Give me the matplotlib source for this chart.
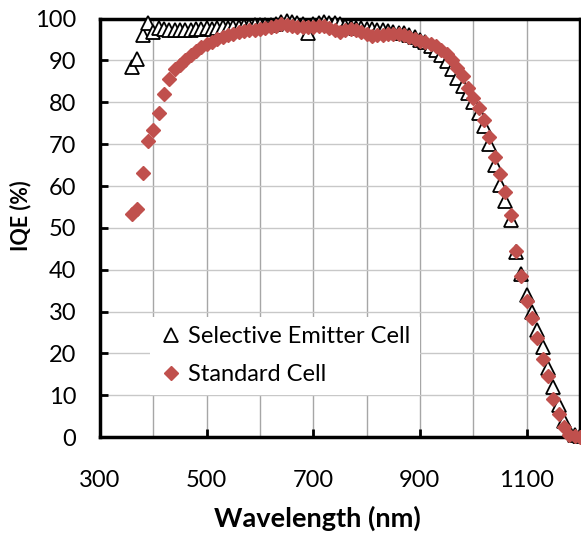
import matplotlib
matplotlib.use("Agg")
import matplotlib.pyplot as plt
from matplotlib.ticker import MultipleLocator

plt.rcParams['font.family'] = ['Lato', 'DejaVu Sans']

# wavelength grid (nm)
wavelength = list(range(360, 1201, 10))

# IQE (%) of the selective emitter cell
iqe_selective = [
    88.5, 90.3, 96.2, 99.0, 96.8, 97.8, 97.5, 97.4, 97.3, 97.2,
    97.3, 97.4, 97.5, 97.6, 97.7, 97.6, 97.8, 97.9, 97.8, 98.0,
    98.1, 98.2, 98.3, 98.4, 98.5, 98.5, 98.6, 98.8, 99.3, 99.4,
    99.2, 98.9, 98.8, 96.5, 98.8, 99.0, 99.2, 99.0, 98.9, 98.7,
    98.3, 98.0, 97.8, 97.7, 97.6, 97.6, 97.4, 97.3, 97.1, 96.9,
    96.6, 96.5, 96.0, 95.6, 95.0, 94.4, 93.5, 92.5, 91.3, 89.8,
    88.0, 85.8, 84.0, 82.3, 80.0, 77.4, 74.3, 70.0, 65.0, 60.3,
    56.3, 51.8, 44.2, 39.0, 34.0, 30.0, 25.6, 21.5, 16.5, 12.0,
    7.6, 3.8, 1.5, 0.5, 0.2,
]

# IQE (%) of the standard cell
iqe_standard = [
    53.3, 54.5, 63.0, 70.8, 73.5, 77.5, 82.0, 85.6, 88.0, 89.0,
    90.0, 91.2, 92.2, 93.2, 93.9, 94.5, 95.1, 95.6, 96.0, 96.4,
    96.8, 97.1, 97.3, 97.4, 97.5, 97.7, 97.9, 98.3, 98.8, 98.6,
    98.2, 98.0, 98.1, 97.9, 98.0, 98.2, 98.3, 97.8, 97.2, 96.8,
    97.4, 97.6, 97.4, 96.9, 96.3, 95.9, 96.1, 96.2, 96.3, 96.4,
    96.3, 96.0, 95.6, 95.2, 94.7, 94.4, 94.0, 93.4, 92.5, 91.5,
    90.0, 88.2, 86.3, 83.5, 81.0, 78.6, 75.8, 71.7, 66.9, 62.8,
    58.5, 53.1, 44.4, 38.4, 32.4, 28.4, 23.6, 18.7, 14.6, 9.2,
    5.5, 2.3, 0.5, 0.2, 0.0,
]

x_ticks = [300, 500, 700, 900, 1100]

fig = plt.figure(figsize=(5.81, 5.33), dpi=100)
ax = fig.add_axes([0.172, 0.180, 0.826, 0.785])

ax.plot(wavelength, iqe_selective, linestyle='none', marker='^', markersize=9.5,
        markerfacecolor='white', markeredgecolor='black', markeredgewidth=1.3,
        label='Selective Emitter Cell', zorder=3, clip_on=False)
ax.plot(wavelength, iqe_standard, linestyle='none', marker='D', markersize=7,
        markerfacecolor='#C0504D', markeredgecolor='#C0504D',
        label='Standard Cell', zorder=4, clip_on=False)

ax.set_xlim(300, 1200)
ax.set_ylim(0, 100)
ax.set_xticks(x_ticks)
ax.xaxis.set_minor_locator(MultipleLocator(100))
ax.yaxis.set_major_locator(MultipleLocator(10))

ax.grid(True, which='both', axis='x', color='#a6a6a6', linewidth=1.0)
ax.grid(True, which='major', axis='y', color='#c8c8c8', linewidth=1.0)
ax.set_axisbelow(True)

for s in ax.spines.values():
    s.set_linewidth(2.5)
    s.set_color('black')

ax.tick_params(axis='both', which='major', direction='in', length=6, width=2,
               labelsize=17, colors='black')
ax.tick_params(axis='x', which='major', pad=24)
ax.tick_params(axis='y', which='major', pad=17)
ax.tick_params(axis='x', which='minor', length=0)

ax.set_xlabel('Wavelength (nm)', fontsize=19.5, fontweight='bold')
ax.set_ylabel('IQE (%)', fontsize=15.5, fontweight='bold')
ax.xaxis.set_label_coords(0.454, -0.163)
ax.yaxis.set_label_coords(-0.142, 0.529)

leg = ax.legend(loc='upper left', bbox_to_anchor=(0.08, 0.316), fontsize=17,
                frameon=True, fancybox=False, framealpha=1, edgecolor='none',
                facecolor='white', handletextpad=0.2, handlelength=1.0,
                borderpad=0.4, labelspacing=0.72)
leg.set_zorder(5)

fig.savefig('out.png', dpi=100)
